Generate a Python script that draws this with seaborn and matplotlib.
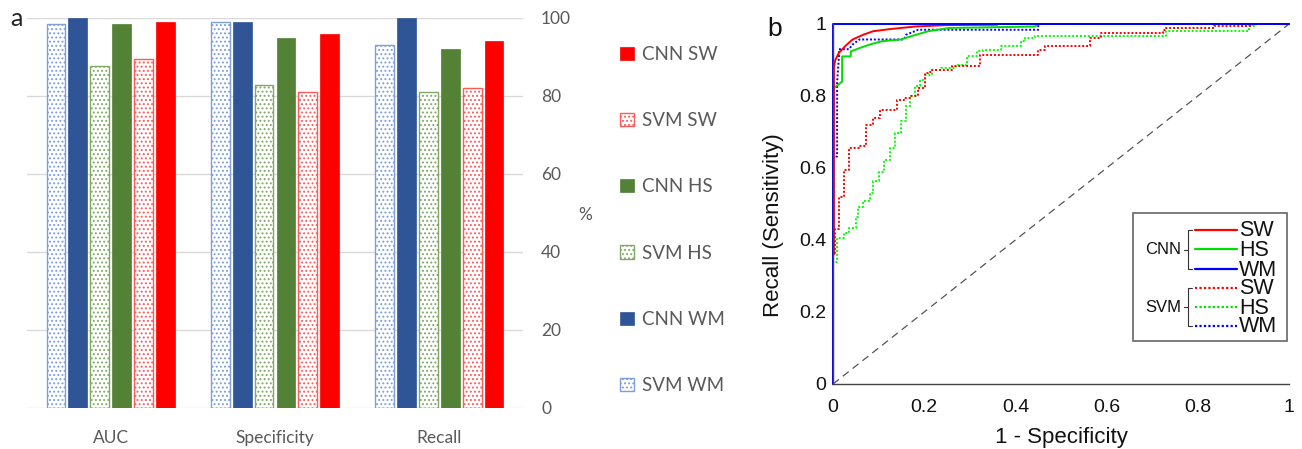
import matplotlib
matplotlib.use("Agg")
import matplotlib.pyplot as plt
import seaborn as sns
import pandas as pd
from matplotlib.patches import Patch, Rectangle
from matplotlib.lines import Line2D

# ---------------- data ----------------
metrics = ["AUC", "Specificity", "Recall"]
models = ["SVM WM", "CNN WM", "SVM HS", "CNN HS", "SVM SW", "CNN SW"]
svm_wm = [98.5, 98.9, 93.0]
cnn_wm = [100.0, 98.9, 100.0]
svm_hs = [87.6, 82.9, 81.0]
cnn_hs = [98.5, 95.0, 92.0]
svm_sw = [89.6, 81.0, 82.1]
cnn_sw = [99.1, 96.0, 94.0]
bar_ticks = [0, 20, 40, 60, 80, 100]
legend_order = ["CNN SW", "SVM SW", "CNN HS", "SVM HS", "CNN WM", "SVM WM"]

# ROC curves (1 - specificity, recall)
cnn_sw_fpr = [0, 0, 0.002, 0.002, 0.005, 0.013, 0.028, 0.043, 0.066, 0.088, 0.126, 0.18, 0.25, 0.36, 0.36, 1]
cnn_sw_tpr = [0, 0.36, 0.36, 0.88, 0.90, 0.92, 0.94, 0.957, 0.97, 0.98, 0.986, 0.993, 0.997, 0.998, 1.0, 1]
cnn_hs_fpr = [0, 0, 0.02, 0.02, 0.039, 0.039, 0.058, 0.081, 0.107, 0.149, 0.171, 0.209, 0.255, 0.443, 0.45, 1]
cnn_hs_tpr = [0, 0.82, 0.84, 0.91, 0.91, 0.924, 0.933, 0.943, 0.952, 0.957, 0.966, 0.98, 0.989, 0.993, 1.0, 1]
cnn_wm_fpr = [0, 0, 1]
cnn_wm_tpr = [0, 1, 1]
svm_sw_fpr = [0, 0, 0.005, 0.005, 0.014, 0.014, 0.024, 0.024, 0.035, 0.035, 0.058, 0.073, 0.073, 0.088,
              0.103, 0.119, 0.141, 0.156, 0.171, 0.187, 0.202, 0.209, 0.217, 0.232, 0.262, 0.284, 0.322,
              0.345, 0.45, 0.466, 0.481, 0.564, 0.587, 0.61, 0.723, 0.73, 0.836, 0.919, 0.927, 1]
svm_sw_tpr = [0, 0.363, 0.363, 0.42, 0.43, 0.51, 0.52, 0.586, 0.595, 0.632, 0.655, 0.66, 0.706, 0.72,
              0.739, 0.762, 0.762, 0.79, 0.794, 0.8, 0.822, 0.864, 0.868, 0.873, 0.873, 0.882, 0.882,
              0.915, 0.915, 0.929, 0.938, 0.938, 0.961, 0.975, 0.975, 0.984, 0.989, 0.994, 1.0, 1]
svm_hs_fpr = [0, 0, 0.009, 0.009, 0.024, 0.035, 0.051, 0.054, 0.066, 0.081, 0.088, 0.1, 0.111, 0.126,
              0.137, 0.149, 0.16, 0.168, 0.179, 0.19, 0.202, 0.217, 0.236, 0.27, 0.293, 0.315, 0.33,
              0.368, 0.413, 0.42, 0.443, 0.602, 0.73, 0.745, 0.912, 0.927, 0.934, 1]
svm_hs_tpr = [0, 0.34, 0.34, 0.396, 0.405, 0.42, 0.433, 0.465, 0.493, 0.507, 0.53, 0.563, 0.59, 0.623,
              0.655, 0.697, 0.73, 0.771, 0.8, 0.827, 0.845, 0.859, 0.873, 0.878, 0.887, 0.91, 0.924,
              0.929, 0.938, 0.952, 0.961, 0.966, 0.966, 0.98, 0.98, 0.994, 1.0, 1]
svm_wm_fpr = [0, 0, 0.009, 0.009, 0.013, 0.013, 0.035, 0.043, 0.058, 0.156, 0.16, 0.187, 0.45, 0.45, 1]
svm_wm_tpr = [0, 0.63, 0.632, 0.836, 0.91, 0.93, 0.93, 0.943, 0.957, 0.957, 0.97, 0.984, 0.984, 1.0, 1]
roc_ticks = [0, 0.2, 0.4, 0.6, 0.8, 1]
roc_ticklabels = ["0", "0.2", "0.4", "0.6", "0.8", "1"]
group_names = ["CNN", "SVM"]
dataset_names = ["SW", "HS", "WM"]

# ---------------- style ----------------
W, H = 1302, 449
sns.set_style("white")
plt.rcParams["font.family"] = ["Lato", "DejaVu Sans"]
plt.rcParams["hatch.linewidth"] = 0.9

bar_fill = {"SVM WM": "#7F9FD8", "CNN WM": "#2F5597", "SVM HS": "#7FAA64",
            "CNN HS": "#538135", "SVM SW": "#FF5A5A", "CNN SW": "#FF0000"}
grey = "#595959"

def P(x, y):
    return (x / W, 1 - y / H)

fig = plt.figure(figsize=(W / 100, H / 100), dpi=100)

# ---------------- panel a: bars ----------------
ax1 = fig.add_axes([27 / W, 1 - 408 / H, 496 / W, 390 / H])
df = pd.DataFrame({
    "metric": metrics * 6,
    "model": sum([[m] * 3 for m in models], []),
    "value": svm_wm + cnn_wm + svm_hs + cnn_hs + svm_sw + cnn_sw,
})
sns.barplot(data=df, x="metric", y="value", hue="model", hue_order=models, order=metrics,
            palette=bar_fill, saturation=1, gap=0.14, width=0.8, legend=False, ax=ax1, zorder=3)
for model, cont in zip(models, ax1.containers):
    for bar in cont:
        if model.startswith("SVM"):
            bar.set_facecolor("white")
            bar.set_edgecolor(bar_fill[model])
            bar.set_hatch("....")
            bar.set_linewidth(1.0)
        else:
            bar.set_edgecolor(bar_fill[model])
            bar.set_linewidth(0.5)
ax1.set_xlim(-0.51, 2.51)
ax1.set_ylim(0, 100)
ax1.set_yticks(bar_ticks)
ax1.yaxis.tick_right()
ax1.yaxis.grid(True, color="#D9D9D9", lw=1, zorder=0)
ax1.set_axisbelow(True)
for s in ax1.spines.values():
    s.set_visible(False)
ax1.tick_params(axis="y", length=0, pad=13, labelsize=12.5, labelcolor=grey)
ax1.tick_params(axis="x", length=0, pad=16, labelsize=12.5, labelcolor=grey)
ax1.set_xlabel("")
ax1.yaxis.set_label_position("right")
ax1.set_ylabel("%", rotation=0, ha="center", va="center", fontsize=12.5, color=grey)
ax1.yaxis.set_label_coords((585 - 27) / 496, (408 - 215) / 390)

handles = []
for m in legend_order:
    if m.startswith("SVM"):
        handles.append(Patch(facecolor="white", edgecolor=bar_fill[m], hatch="....", lw=1.0, label=m))
    else:
        handles.append(Patch(facecolor=bar_fill[m], edgecolor=bar_fill[m], lw=0.5, label=m))
fig.legend(handles=handles, loc="center left", bbox_to_anchor=P(611, 220), frameon=False,
           handlelength=0.7, handleheight=0.7, handletextpad=0.45, labelspacing=2.62,
           borderpad=0, fontsize=13.5, labelcolor=grey)

fig.text(*P(16, 19), "a", fontsize=18, ha="center", va="center", color="#222222")

# ---------------- panel b: ROC ----------------
arial = "Liberation Sans"
ax2 = fig.add_axes([833 / W, 1 - 384 / H, 456 / W, 360 / H])
ax2.plot([0, 1], [0, 1], ls=(0, (6, 4)), color="#555555", lw=0.9)
curves = [
    (svm_hs_fpr, svm_hs_tpr, "#00FF00", (0, (1, 1)), "steps-pre"),
    (svm_sw_fpr, svm_sw_tpr, "#FF0000", (0, (1, 1)), "steps-pre"),
    (svm_wm_fpr, svm_wm_tpr, "#0000FF", (0, (1, 1)), "default"),
    (cnn_hs_fpr, cnn_hs_tpr, "#00DD00", "-", "default"),
    (cnn_sw_fpr, cnn_sw_tpr, "#FF0000", "-", "default"),
    (cnn_wm_fpr, cnn_wm_tpr, "#0000FF", "-", "default"),
]
for fx, ty, col, ls, ds in curves:
    sns.lineplot(x=fx, y=ty, ax=ax2, color=col, linestyle=ls, lw=1.4, estimator=None,
                 sort=False, drawstyle=ds, clip_on=False)
ax2.set_xlim(0, 1)
ax2.set_ylim(0, 1)
ax2.set_xticks(roc_ticks)
ax2.set_xticklabels(roc_ticklabels)
ax2.set_yticks(roc_ticks)
ax2.set_yticklabels(roc_ticklabels)
for s in ["top", "right"]:
    ax2.spines[s].set_visible(False)
for s in ["left", "bottom"]:
    ax2.spines[s].set_color("#444444")
    ax2.spines[s].set_linewidth(1.0)
ax2.tick_params(direction="in", length=4, width=0.8, color="#444444", labelsize=14,
                labelcolor="#111111")
ax2.tick_params(axis="y", pad=5)
ax2.tick_params(axis="x", pad=11)
for lab in ax2.get_xticklabels() + ax2.get_yticklabels():
    lab.set_fontfamily(arial)
ax2.set_xlabel("1 - Specificity", fontsize=16, family=arial, color="#111111", va="center")
ax2.xaxis.set_label_coords(0.5, (384 - 437) / 360)
ax2.set_ylabel("Recall (Sensitivity)", fontsize=16, family=arial, color="#111111", va="center")
ax2.yaxis.set_label_coords((774 - 833) / 456, (384 - 225) / 360)

fig.text(*P(775, 29), "b", fontsize=19, family=arial, ha="center", va="center", color="#111111")

# custom bracketed legend
box = Rectangle(P(1133, 341), 154 / W, 128 / H, transform=fig.transFigure, facecolor="white",
                edgecolor="#666666", lw=1.2, zorder=5)
fig.add_artist(box)
line_colors = ["#FF0000", "#00DD00", "#0000FF"]
group_rows = [[230, 249, 269], [288, 307, 326]]
group_styles = ["-", (0, (1, 1))]
for gname, rows, gls in zip(group_names, group_rows, group_styles):
    mid = (rows[0] + rows[-1]) / 2
    fig.text(*P(1163, mid), gname, fontsize=12, family=arial, ha="center", va="center",
             color="#111111", zorder=6)
    for seg in [((1188, rows[0]), (1188, rows[-1])), ((1188, rows[0]), (1192, rows[0])),
                ((1188, rows[-1]), (1192, rows[-1])), ((1184, mid), (1188, mid))]:
        (x0, y0), (x1, y1) = seg
        fig.add_artist(Line2D([x0 / W, x1 / W], [1 - y0 / H, 1 - y1 / H], transform=fig.transFigure,
                              color="#333333", lw=0.8, zorder=6))
    for yy, col, nm in zip(rows, line_colors, dataset_names):
        fig.add_artist(Line2D([1195 / W, 1237 / W], [1 - yy / H, 1 - yy / H], transform=fig.transFigure,
                              color=col, lw=1.6, ls=gls, zorder=6))
        fig.text(*P(1239, yy + 1), nm, fontsize=15.5, family=arial, ha="left", va="center",
                 color="#111111", zorder=6)

fig.savefig("out.png", dpi=100)
